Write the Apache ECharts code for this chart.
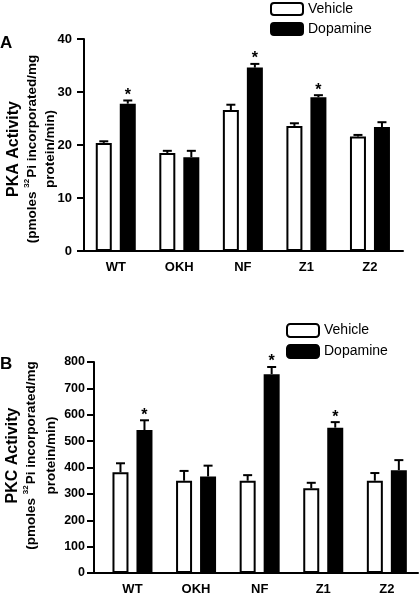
<!DOCTYPE html>
<html><head><meta charset="utf-8">
<script src="https://cdn.jsdelivr.net/npm/echarts@6/dist/echarts.min.js"></script>
<style>html,body{margin:0;padding:0;background:#fff}#c{width:420px;height:594px}</style>
</head><body><div id="c"></div>
<script>
const categories = ['WT', 'OKH', 'NF', 'Z1', 'Z2'];
const seriesNames = ['Vehicle', 'Dopamine'];
// Panel A: PKA activity
const pkaVehicle = [20.4, 18.5, 26.6, 23.6, 21.6];
const pkaVehicleErr = [0.3, 0.4, 1.0, 0.5, 0.3];
const pkaDopamine = [27.8, 17.7, 34.6, 29.0, 23.4];
const pkaDopamineErr = [0.6, 1.2, 0.7, 0.4, 0.9];
const pkaSig = [true, false, true, true, false];
const pkaTicks = [0, 10, 20, 30, 40];
// Panel B: PKC activity
const pkcVehicle = [382, 350, 350, 321, 350];
const pkcVehicleErr = [34, 37, 21, 21, 29];
const pkcDopamine = [542, 366, 754, 551, 390];
const pkcDopamineErr = [37, 41, 27, 21, 38];
const pkcSig = [true, false, true, true, false];
const pkcTicks = [0, 100, 200, 300, 400, 500, 600, 700, 800];

const FONT = 'Liberation Sans, Arial, sans-serif';
const chart = echarts.init(document.getElementById('c'), null, {renderer: 'canvas'});

function pairs(arr) { return arr.map((v, i) => [i, v]); }
function errData(vals, errs, sig) { return vals.map((v, i) => [i, v, errs[i], sig[i] ? 1 : 0]); }

function errSeries(name, xi, vals, errs, sig, dx) {
  return {
    type: 'custom', name: name + ' err', xAxisIndex: xi, yAxisIndex: xi, z: 5,
    silent: true, clip: false,
    data: errData(vals, errs, sig),
    renderItem: function (params, api) {
      const x = api.value(0), v = api.value(1), e = api.value(2), s = api.value(3);
      const p0 = api.coord([x, v]);
      const p1 = api.coord([x, v + e]);
      const cx = p0[0] + dx;
      const children = [
        {type: 'line', shape: {x1: cx, y1: p0[1], x2: cx, y2: p1[1]}, style: {stroke: '#000', lineWidth: 2}},
        {type: 'line', shape: {x1: cx - 4.5, y1: p1[1], x2: cx + 4.5, y2: p1[1]}, style: {stroke: '#000', lineWidth: 2}}
      ];
      if (s) {
        children.push({type: 'text', style: {x: cx, y: p1[1] + 3, text: '*', align: 'center', verticalAlign: 'bottom', font: 'bold 16px ' + FONT, fill: '#000'}});
      }
      return {type: 'group', children: children};
    }
  };
}

function barSeries(name, xi, vals, filled) {
  return {
    type: 'bar', name: name, xAxisIndex: xi, yAxisIndex: xi,
    data: pairs(vals), barWidth: 16, barGap: '50%',
    itemStyle: {color: filled ? '#000' : '#fff', borderColor: '#000', borderWidth: 2},
    emphasis: {disabled: true}
  };
}

function yAxis(gi, max, interval, ticks, nameText, gap, margin, labelSize, lh, shiftUp) {
  return {
    type: 'value', gridIndex: gi, min: 0, max: max, interval: interval,
    axisLine: {show: true, onZero: false, lineStyle: {color: '#000', width: 2}},
    axisTick: {show: true, length: 7, lineStyle: {color: '#000', width: 2}},
    splitLine: {show: false},
    axisLabel: {color: '#000', fontFamily: FONT, fontWeight: 'bold', fontSize: labelSize, margin: margin,
      formatter: v => ticks.indexOf(v) >= 0 ? String(v) : ''},
    name: nameText, nameLocation: 'middle', nameRotate: 90, nameGap: gap, nameMoveOverlap: false,
    nameTextStyle: {color: '#000', fontFamily: FONT, fontWeight: 'bold', fontSize: 13.5, lineHeight: lh, align: 'center',
      padding: [0, Math.max(0, -2 * shiftUp), 0, Math.max(0, 2 * shiftUp)],
      rich: {h: {fontFamily: FONT, fontWeight: 'bold', fontSize: 16, color: '#000', lineHeight: lh, align: 'center'},
             b: {fontFamily: FONT, fontWeight: 'bold', fontSize: 13.5, color: '#000', lineHeight: lh, align: 'center'},
             s: {fontFamily: FONT, fontWeight: 'bold', fontSize: 8, color: '#000', verticalAlign: 'top', lineHeight: lh, align: 'center', padding: [0, 1, 7, 0]}}}
  };
}

function xAxis(gi, min, max) {
  return {
    type: 'value', gridIndex: gi, min: min, max: max,
    axisLine: {show: true, onZero: false, lineStyle: {color: '#000', width: 2}},
    axisTick: {show: false},
    splitLine: {show: false},
    axisLabel: {customValues: categories.map((c, i) => i), color: '#000', fontFamily: FONT, fontWeight: 'bold', fontSize: 13, margin: 10,
      formatter: v => categories[Math.round(v)] || ''}
  };
}

const nameA = '{h|PKA Activity}\n{b|(pmoles }{s|32}{b|Pi incorporated/mg}\n{b|protein/min)}';
const nameB = '{h|PKC Activity}\n{b|(pmoles }{s|32}{b|Pi incorporated/mg}\n{b|protein/min)}';

chart.setOption({
  animation: false,
  backgroundColor: '#fff',
  grid: [
    {left: 84, width: 319, top: 39, height: 212, containLabel: false, outerBoundsMode: 'none'},
    {left: 94, width: 324, top: 362, height: 211, containLabel: false, outerBoundsMode: 'none'}
  ],
  xAxis: [xAxis(0, -0.5, 4.52), xAxis(1, -0.605, 4.49)],
  yAxis: [
    yAxis(0, 40, 10, pkaTicks, nameA, 25, 12, 13, 18, -4),
    yAxis(1, 800, 100, pkcTicks, nameB, 33, 9, 12.5, 19.5, 12)
  ],
  legend: [
    {orient: 'vertical', left: 270, top: 2, padding: 0, itemWidth: 32, itemHeight: 12, itemGap: 6, selectedMode: false,
      data: seriesNames, textStyle: {fontFamily: FONT, fontSize: 14, color: '#000'}},
    {orient: 'vertical', left: 286, top: 323, padding: 0, itemWidth: 32, itemHeight: 13, itemGap: 6, selectedMode: false,
      data: seriesNames, textStyle: {fontFamily: FONT, fontSize: 14, color: '#000'}}
  ],
  graphic: [
    {type: 'text', left: 0, top: 35, style: {text: 'A', font: 'bold 17px ' + FONT, fill: '#000'}},
    {type: 'text', left: 0, top: 356, style: {text: 'B', font: 'bold 17px ' + FONT, fill: '#000'}}
  ],
  series: [
    barSeries('Vehicle', 0, pkaVehicle, false),
    barSeries('Dopamine', 0, pkaDopamine, true),
    errSeries('Vehicle', 0, pkaVehicle, pkaVehicleErr, [false, false, false, false, false], -12),
    errSeries('Dopamine', 0, pkaDopamine, pkaDopamineErr, pkaSig, 12),
    barSeries('Vehicle', 1, pkcVehicle, false),
    barSeries('Dopamine', 1, pkcDopamine, true),
    errSeries('Vehicle', 1, pkcVehicle, pkcVehicleErr, [false, false, false, false, false], -12),
    errSeries('Dopamine', 1, pkcDopamine, pkcDopamineErr, pkcSig, 12)
  ]
});
</script></body></html>
